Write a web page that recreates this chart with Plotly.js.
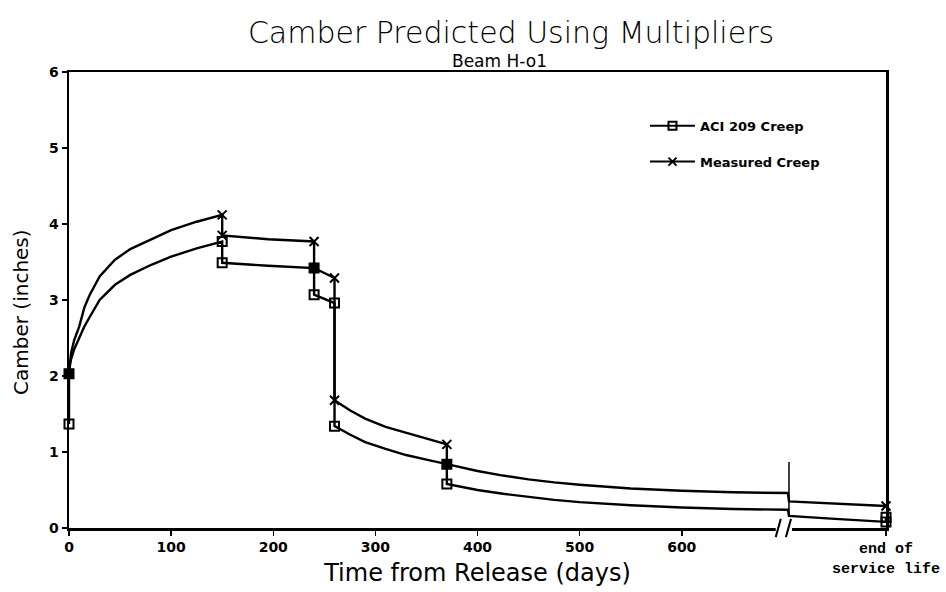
<!DOCTYPE html>
<html>
<head>
<meta charset="utf-8">
<script src="https://cdn.plot.ly/plotly-3.0.1.min.js"></script>
<style>html,body{margin:0;padding:0;background:#fff;}#chart{width:946px;height:592px;}</style>
</head>
<body>
<div id="chart"></div>
<script>
// ---- data ----
const aciDays    = [0, 0, 1, 2, 5, 10, 15, 20, 30, 45, 60, 80, 100, 125, 150, 150, 195, 240, 240, 260, 260, 275, 290, 310, 330, 350, 370, 370, 385, 400, 425, 450, 475, 500, 550, 600, 650, 704, 705, 750, 800, 800];
const aciCamber  = [1.37, 2.03, 2.15, 2.22, 2.35, 2.50, 2.65, 2.77, 3.00, 3.20, 3.33, 3.46, 3.57, 3.68, 3.77, 3.49, 3.45, 3.42, 3.07, 2.96, 1.34, 1.23, 1.13, 1.04, 0.96, 0.90, 0.84, 0.58, 0.54, 0.50, 0.45, 0.41, 0.37, 0.34, 0.30, 0.27, 0.25, 0.24, 0.16, 0.12, 0.08, 0.14];
const measDays   = [0, 1, 2, 5, 10, 15, 20, 30, 45, 60, 80, 100, 125, 150, 150, 195, 240, 240, 260, 260, 275, 290, 310, 330, 350, 370, 370, 385, 400, 425, 450, 475, 500, 550, 600, 650, 704, 705, 750, 800];
const measCamber = [2.03, 2.20, 2.30, 2.47, 2.65, 2.90, 3.06, 3.31, 3.53, 3.67, 3.80, 3.92, 4.03, 4.12, 3.85, 3.80, 3.77, 3.42, 3.29, 1.68, 1.55, 1.44, 1.33, 1.25, 1.17, 1.10, 0.84, 0.79, 0.75, 0.69, 0.64, 0.60, 0.57, 0.52, 0.49, 0.47, 0.46, 0.35, 0.32, 0.29];

const aciEventDays    = [0, 0, 150, 150, 240, 240, 260, 260, 370, 370, 800, 800];
const aciEventCamber  = [1.37, 2.03, 3.77, 3.49, 3.42, 3.07, 2.96, 1.34, 0.84, 0.58, 0.14, 0.08];
const measEventDays   = [0, 150, 150, 240, 240, 260, 260, 370, 370, 800];
const measEventCamber = [2.03, 4.12, 3.85, 3.77, 3.42, 3.29, 1.68, 1.10, 0.84, 0.29];

const breakDays   = [705, 705];
const breakCamber = [0.87, 0.16];

const xTickVals  = [0, 100, 200, 300, 400, 500, 600, 800];
const xTickText  = ['0', '100', '200', '300', '400', '500', '600', ''];
const yTickVals  = [0, 1, 2, 3, 4, 5, 6];
const seriesNames = ['ACI 209 Creep', 'Measured Creep'];

// ---- drawing ----
const black = '#000';
const measKey = new Set(measEventDays.map((d, i) => d + ':' + measEventCamber[i]));
const aciSymbols = aciEventDays.map((d, i) => measKey.has(d + ':' + aciEventCamber[i]) ? 'square' : 'square-open');

const traces = [
  {x: aciDays, y: aciCamber, mode: 'lines', line: {color: black, width: 2.4}, showlegend: false, hoverinfo: 'skip'},
  {x: measDays, y: measCamber, mode: 'lines', line: {color: black, width: 2.4}, showlegend: false, hoverinfo: 'skip'},
  {x: breakDays, y: breakCamber, mode: 'lines', line: {color: black, width: 1.5}, showlegend: false, hoverinfo: 'skip'},
  {x: aciEventDays, y: aciEventCamber, mode: 'markers', showlegend: false, cliponaxis: false,
   marker: {symbol: aciSymbols, size: 9, color: black, line: {color: black, width: 2}}},
  {x: measEventDays, y: measEventCamber, mode: 'markers', showlegend: false, cliponaxis: false,
   marker: {symbol: 'x-thin-open', size: 9, color: black, line: {color: black, width: 2}}},
  {x: [null], y: [null], name: seriesNames[0], legendgroup: 'a', mode: 'lines+markers',
   line: {color: black, width: 2}, marker: {symbol: 'square-open', size: 8, color: black, line: {color: black, width: 2}}},
  {x: [null], y: [null], name: seriesNames[1], legendgroup: 'b', mode: 'lines+markers',
   line: {color: black, width: 2}, marker: {symbol: 'x-thin-open', size: 8, color: black, line: {color: black, width: 2}}}
];

const tickFont = {family: 'DejaVu Sans', size: 14, color: black, weight: 'bold'};

const layout = {
  width: 946, height: 592,
  margin: {l: 69, r: 60, t: 72, b: 64},
  paper_bgcolor: '#fff', plot_bgcolor: '#fff',
  font: {family: 'DejaVu Sans', color: black},
  title: {text: 'Camber Predicted Using Multipliers', x: 0.541, xanchor: 'center', y: 0.945, yanchor: 'middle',
          xref: 'paper', font: {family: 'DejaVu Sans', size: 30, color: black, weight: 300}},
  xaxis: {range: [0, 800], tickvals: xTickVals, ticktext: xTickText, ticks: 'outside', ticklen: 5, tickwidth: 1.5,
          tickcolor: black, showgrid: false, zeroline: false, showline: true, linecolor: black, linewidth: 2.5,
          mirror: true, tickfont: tickFont,
          title: {text: 'Time from Release (days)', font: {family: 'DejaVu Sans', size: 24, color: black}, standoff: 10}},
  yaxis: {range: [0, 6], tickvals: yTickVals, ticks: 'outside', ticklen: 5, tickwidth: 1.5, tickcolor: black,
          showgrid: false, zeroline: false, showline: true, linecolor: black, linewidth: 2.5, mirror: true,
          tickfont: tickFont},
  legend: {x: 0.705, y: 0.915, xanchor: 'left', yanchor: 'top', bgcolor: 'rgba(0,0,0,0)', borderwidth: 0,
           font: {family: 'DejaVu Sans', size: 13, color: black, weight: 'bold'}, itemwidth: 45,
           traceorder: 'grouped', tracegroupgap: 16},
  annotations: [
    {text: 'Beam H-o1', xref: 'paper', yref: 'paper', x: 0.527, y: 1.024, showarrow: false,
     xanchor: 'center', yanchor: 'middle', font: {family: 'DejaVu Sans', size: 17, color: black}},
    {text: 'Camber (inches)', xref: 'paper', yref: 'paper', x: -0.058, y: 0.473, showarrow: false, textangle: -90,
     xanchor: 'center', yanchor: 'middle', font: {family: 'DejaVu Sans', size: 20, color: black}},
    {text: 'end of<br>service life', xref: 'x', yref: 'paper', x: 800, y: 0, yshift: -31, showarrow: false,
     xanchor: 'center', yanchor: 'middle', align: 'center',
     font: {family: 'Liberation Mono', size: 15, color: black, weight: 'bold'}}
  ],
  shapes: [
    {type: 'rect', xref: 'x', yref: 'paper', x0: 692, x1: 708, y0: -0.012, y1: 0.012, fillcolor: '#fff',
     line: {width: 0}, layer: 'above'},
    {type: 'line', xref: 'x', yref: 'paper', x0: 692, x1: 697, y0: -0.02, y1: 0.02, line: {color: black, width: 2}, layer: 'above'},
    {type: 'line', xref: 'x', yref: 'paper', x0: 702, x1: 707, y0: -0.02, y1: 0.02, line: {color: black, width: 2}, layer: 'above'}
  ]
};

Plotly.newPlot('chart', traces, layout, {staticPlot: true});
</script>
</body>
</html>
